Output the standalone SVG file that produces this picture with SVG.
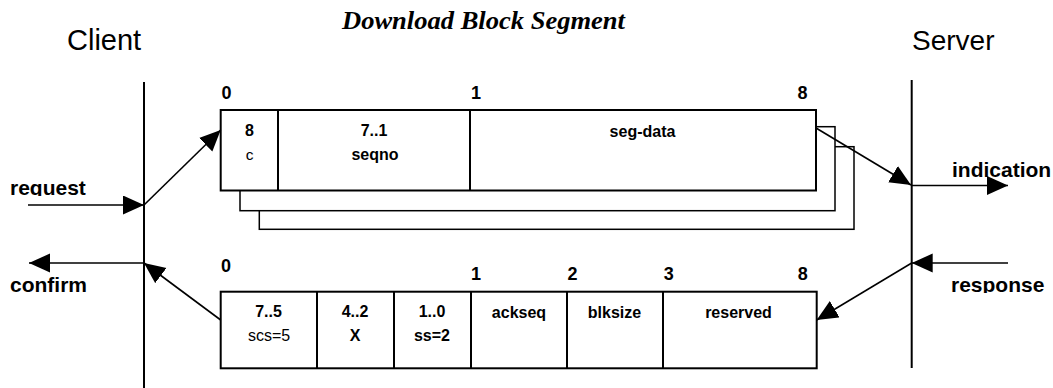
<svg xmlns="http://www.w3.org/2000/svg" width="1053" height="388" viewBox="0 0 1053 388">
<style>
.box{fill:#fff;stroke:#000;stroke-width:2}
.sh{fill:#fff;stroke:#000;stroke-width:1.5}
.div{stroke:#000;stroke-width:2}
.life{stroke:#000;stroke-width:2}
.con{stroke:#000;stroke-width:1.6;fill:none;marker-end:url(#ah)}
.t{font-family:"Liberation Sans",Arial,sans-serif;fill:#000}
.big{font-size:28px}
.num{font-size:18px;font-weight:bold;text-anchor:middle}
.cb{font-size:16px;font-weight:bold;text-anchor:middle}
.cn{font-size:15.5px;text-anchor:middle}
.lbl{font-size:21px;font-weight:bold}
.title{font-family:"Liberation Serif","Times New Roman",serif;font-size:26px;font-weight:bold;font-style:italic}
</style>
<defs>
<marker id="ah" markerUnits="userSpaceOnUse" markerWidth="22" markerHeight="20" refX="21" refY="9.5" orient="auto">
<path d="M0,0 L21,9.5 L0,19 z" fill="#000"/>
</marker>
<clipPath id="clipReq"><rect x="0" y="160" width="140" height="36"/></clipPath>
<clipPath id="clipResp"><rect x="940" y="260" width="113" height="33"/></clipPath>
</defs>
<rect width="1053" height="388" fill="#fff"/>
<text class="title" x="342" y="29" textLength="283" lengthAdjust="spacingAndGlyphs">Download Block Segment</text>
<g id="client">
<text class="t big" x="67" y="50" font-size="29" style="font-size:29px">Client</text>
<line class="life" x1="144" y1="82" x2="144" y2="388"/>
</g>
<g id="server">
<text class="t big" x="912" y="50">Server</text>
<line class="life" x1="911.7" y1="80" x2="911.7" y2="368"/>
</g>
<g id="request-label"><text class="t lbl" x="10" y="195" clip-path="url(#clipReq)">request</text></g>
<g id="confirm-label"><text class="t lbl" x="10" y="292">confirm</text></g>
<g id="indication-label"><text class="t lbl" x="952" y="177">indication</text></g>
<g id="response-label"><text class="t lbl" x="951" y="292" clip-path="url(#clipResp)">response</text></g>
<g id="download-segment">
<rect class="sh" x="259.3" y="146.7" width="594.7" height="82.6"/>
<rect class="sh" x="240" y="126.7" width="595" height="84"/>
<rect class="box" x="220.7" y="110" width="595.3" height="80.5"/>
<line class="div" x1="278" y1="110" x2="278" y2="190.5"/>
<line class="div" x1="470" y1="110" x2="470" y2="190.5"/>
<text class="t num" x="226.5" y="99">0</text>
<text class="t num" x="476" y="99">1</text>
<text class="t num" x="802.5" y="99">8</text>
<text class="t cb" x="249.5" y="136">8</text>
<text class="t cn" x="249.5" y="159.5">c</text>
<text class="t cb" x="374" y="136">7..1</text>
<text class="t cb" x="375" y="160">seqno</text>
<text class="t cb" x="642.5" y="136.5">seg-data</text>
</g>
<g id="response-segment">
<rect class="box" x="220.7" y="291.7" width="596" height="76.6"/>
<line class="div" x1="317" y1="291.7" x2="317" y2="368.3"/>
<line class="div" x1="394" y1="291.7" x2="394" y2="368.3"/>
<line class="div" x1="471" y1="291.7" x2="471" y2="368.3"/>
<line class="div" x1="567" y1="291.7" x2="567" y2="368.3"/>
<line class="div" x1="663" y1="291.7" x2="663" y2="368.3"/>
<text class="t num" x="226" y="272.3">0</text>
<text class="t num" x="476" y="280">1</text>
<text class="t num" x="572.5" y="280">2</text>
<text class="t num" x="668.7" y="280">3</text>
<text class="t num" x="802.7" y="280">8</text>
<text class="t cb" x="268.5" y="317">7..5</text>
<text class="t cn" x="269" y="341" style="font-size:16px">scs=5</text>
<text class="t cb" x="355" y="317">4..2</text>
<text class="t cb" x="355" y="341">X</text>
<text class="t cb" x="432" y="317">1..0</text>
<text class="t cb" x="432" y="341">ss=2</text>
<text class="t cb" x="519" y="318">ackseq</text>
<text class="t cb" x="614.5" y="318">blksize</text>
<text class="t cb" x="738.5" y="318">reserved</text>
</g>
<g id="connectors">
<line class="con" x1="28" y1="205" x2="144" y2="205"/>
<line class="con" x1="144" y1="205" x2="220.7" y2="130"/>
<line class="con" x1="816" y1="128" x2="911" y2="185"/>
<line class="con" x1="911.7" y1="185.5" x2="1008" y2="185.5"/>
<line class="con" x1="1008" y1="263" x2="911.7" y2="263"/>
<line class="con" x1="911.7" y1="263" x2="816.7" y2="320"/>
<line class="con" x1="220.7" y1="320" x2="144" y2="263"/>
<line class="con" x1="144" y1="263" x2="29" y2="263"/>
</g>
</svg>
